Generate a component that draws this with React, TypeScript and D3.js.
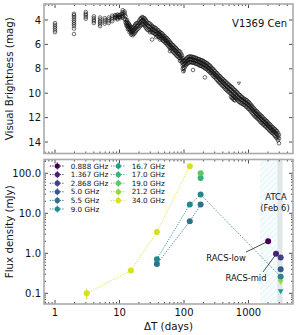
import React from 'react';
import * as d3 from 'd3';

const W = 296;
const H = 335;
const L = 44;
const R = 293;
const topY0 = 4;
const topY1 = 153.5;
const botY0 = 159.5;
const botY1 = 304;

// visual light curve: [day, mag, mag, ...]
const opticalEpochs: number[][] = [
  [1.0, 4.25, 4.4, 4.55, 4.7, 4.85, 5.0],
  [1.97, 3.5, 3.6, 3.75, 3.9, 4.05, 4.2, 4.35, 4.5, 4.7, 5.15],
  [3.0, 3.35, 3.5, 3.6, 3.75, 3.9],
  [4.0, 3.7, 3.85, 4.0, 4.1, 4.25],
  [5.0, 3.8, 3.95, 4.1, 4.2, 4.35, 4.5],
  [5.9, 3.85, 4.0, 4.15, 4.3],
  [6.8, 3.8, 3.95, 4.1, 4.25],
  [7.7, 3.65, 3.8, 3.95, 4.1],
  [8.5, 3.6, 3.75, 3.85],
  [9.3, 3.55, 3.7, 3.85, 3.95],
  [10.2, 3.6, 3.75, 3.85],
  [11.2, 3.2, 3.35, 3.5, 3.65, 3.8],
  [12.0, 3.3, 3.45, 3.6, 3.95],
  [12.8, 4.1, 4.3, 4.45],
  [13.5, 4.2, 4.4, 4.6, 4.75],
  [14.3, 4.4, 4.6, 4.8, 5.0],
  [15.2, 4.6, 4.8, 5.0, 5.2],
  [16.0, 4.7, 4.95, 5.25],
  [17.0, 4.5, 4.8, 5.1],
  [18.0, 4.3, 4.6, 4.9],
  [19.5, 4.2, 4.45, 4.7],
  [21.0, 3.9, 4.2, 4.5],
  [22.5, 3.75, 4.0, 4.3],
  [24.0, 3.85, 4.1, 4.4],
  [25.5, 4.0, 4.3, 4.6],
  [27.0, 4.2, 4.45, 4.8],
  [29.7, 4.3, 4.55, 4.8, 5.0],
  [32, 4.5, 4.75, 5.0, 5.6],
  [34.5, 4.6, 4.85, 5.1],
  [37, 4.7, 4.95, 5.2, 5.4],
  [40, 4.85, 5.1, 5.35],
  [42.4, 5.0, 5.2, 5.45, 5.6],
  [45.7, 5.1, 5.35, 5.6],
  [49, 5.3, 5.5, 5.75],
  [52.6, 5.45, 5.7, 5.9],
  [56.5, 5.6, 5.85, 6.1],
  [60.6, 5.8, 6.05, 6.3, 6.55],
  [65, 6.0, 6.25, 6.5],
  [70, 6.15, 6.4, 6.7],
  [75, 6.3, 6.55, 6.85],
  [80.5, 6.5, 6.75, 7.0],
  [86.7, 6.6, 6.9, 7.15, 7.35],
  [93, 6.9, 7.2, 7.5],
  [98, 7.3, 7.6, 7.9, 8.2],
  [104, 7.3, 7.55, 7.8],
  [111, 7.1, 7.35, 7.6],
  [119, 7.0, 7.25, 7.5],
  [128, 7.0, 7.2, 7.45],
  [138, 7.05, 7.25, 7.5, 8.1],
  [148, 7.1, 7.3, 7.55],
  [159, 7.15, 7.35, 7.6],
  [171, 7.2, 7.45, 7.7],
  [184, 7.3, 7.5, 7.75],
  [197, 7.35, 7.6, 7.85],
  [211, 7.45, 7.7, 7.95, 8.7],
  [227, 7.55, 7.8, 8.05],
  [244, 7.7, 7.95, 8.2],
  [262, 7.85, 8.1, 8.35],
  [281, 8.0, 8.3, 8.55],
  [302, 8.2, 8.45, 8.7],
  [324, 8.35, 8.6, 8.9],
  [348, 8.55, 8.8, 9.1],
  [374, 8.7, 8.95, 9.25],
  [401, 8.85, 9.1, 9.4],
  [432, 9.0, 9.3, 9.6],
  [463, 9.15, 9.45, 9.75],
  [497, 9.3, 9.6, 9.9],
  [534, 9.45, 9.75, 10.05, 10.3],
  [574, 9.6, 9.9, 10.2, 10.45],
  [618, 9.75, 10.05, 10.35, 10.6],
  [661, 9.9, 10.2, 10.5],
  [711, 10.1, 10.4, 10.7],
  [763, 10.25, 10.5, 10.8],
  [820, 10.4, 10.6, 10.9],
  [883, 10.5, 10.75, 11.0],
  [948, 10.6, 10.85, 11.15],
  [1018, 10.75, 11.0, 11.3],
  [1093, 10.95, 11.2, 11.5],
  [1174, 11.15, 11.4, 11.7],
  [1263, 11.35, 11.6, 11.9],
  [1355, 11.5, 11.75, 12.05],
  [1455, 11.7, 11.95, 12.2],
  [1563, 11.85, 12.1, 12.4],
  [1679, 12.0, 12.25, 12.55],
  [1802, 12.15, 12.4, 12.7],
  [1936, 12.3, 12.55, 12.85],
  [2079, 12.5, 12.75, 13.0],
  [2232, 12.65, 12.9, 13.15],
  [2397, 12.8, 13.05, 13.3],
  [2577, 12.95, 13.2, 13.5],
  [2766, 13.1, 13.4, 13.7],
  [2970, 13.4, 13.7, 14.1],
];

// extra observations filling the dense parts of the band
const opticalEpochsDense: number[][] = [
  [8.9, 3.65, 3.8],
  [9.8, 3.6, 3.75],
  [10.7, 3.5, 3.7],
  [12.4, 3.7, 3.95, 4.2],
  [13.1, 4.0, 4.25, 4.5],
  [13.9, 4.3, 4.5, 4.7],
  [14.7, 4.5, 4.7, 4.9],
  [15.6, 4.65, 4.9, 5.1],
  [16.5, 4.6, 4.85, 5.15],
  [17.5, 4.4, 4.7, 5.0],
  [18.7, 4.25, 4.5, 4.8],
  [20.2, 4.05, 4.3, 4.6],
  [21.7, 3.85, 4.1, 4.4],
  [23.2, 3.8, 4.05, 4.35],
  [24.7, 3.9, 4.2, 4.5],
  [26.2, 4.1, 4.35, 4.7],
  [28.3, 4.25, 4.5, 4.85],
  [31, 4.4, 4.65, 4.9],
  [33, 4.55, 4.8, 5.05],
  [35.7, 4.65, 4.9, 5.15],
  [38.5, 4.8, 5.05, 5.3],
  [41, 4.95, 5.15, 5.4],
  [44, 5.05, 5.3, 5.5],
  [47.3, 5.2, 5.45, 5.7],
  [50.8, 5.35, 5.6, 5.85],
  [54.5, 5.5, 5.75, 6.0],
  [58.5, 5.7, 5.95, 6.2],
  [62.8, 5.9, 6.15, 6.4],
  [67.5, 6.05, 6.3, 6.6],
  [72.5, 6.25, 6.5, 6.75],
  [77.7, 6.4, 6.65, 6.95],
  [83.5, 6.55, 6.8, 7.1],
  [89.8, 6.75, 7.05, 7.3],
  [95.5, 7.1, 7.4, 7.7, 8.0],
  [101, 7.35, 7.65, 7.95],
  [107.5, 7.2, 7.45, 7.7],
  [115, 7.05, 7.3, 7.55],
  [123.5, 7.0, 7.2, 7.45],
  [133, 7.0, 7.25, 7.5],
  [143, 7.05, 7.3, 7.5],
  [153.5, 7.1, 7.35, 7.6],
  [165, 7.2, 7.4, 7.65],
  [177.5, 7.25, 7.5, 7.75],
  [190.5, 7.3, 7.55, 7.8],
  [204, 7.4, 7.65, 7.9],
  [219, 7.5, 7.75, 8.0],
  [235.5, 7.6, 7.9, 8.15],
  [253, 7.75, 8.0, 8.3],
  [271.5, 7.95, 8.2, 8.45],
  [291.5, 8.1, 8.35, 8.65],
  [313, 8.3, 8.55, 8.8],
  [336, 8.45, 8.7, 9.0],
  [361, 8.6, 8.9, 9.15],
  [387.5, 8.8, 9.05, 9.35],
  [416, 8.95, 9.2, 9.5],
  [447, 9.1, 9.4, 9.7],
  [480, 9.25, 9.55, 9.85],
  [515, 9.4, 9.7, 10.0],
  [554, 9.5, 9.85, 10.15, 10.4],
  [596, 9.7, 10.0, 10.3, 10.55],
  [639, 9.85, 10.15, 10.45],
  [686, 10.0, 10.3, 10.6],
  [737, 10.15, 10.45, 10.75],
  [791, 10.3, 10.55, 10.85],
  [851, 10.45, 10.7, 10.95],
  [915, 10.55, 10.8, 11.1],
  [983, 10.7, 10.95, 11.25],
  [1055, 10.85, 11.1, 11.4],
  [1133, 11.05, 11.3, 11.6],
  [1218, 11.25, 11.5, 11.8],
  [1309, 11.45, 11.7, 11.95],
  [1405, 11.6, 11.85, 12.1],
  [1509, 11.75, 12.0, 12.3],
  [1620, 11.9, 12.2, 12.45],
  [1740, 12.1, 12.35, 12.6],
  [1868, 12.25, 12.5, 12.75],
  [2006, 12.4, 12.65, 12.9],
  [2155, 12.55, 12.8, 13.1],
  [2314, 12.75, 13.0, 13.25],
  [2485, 12.9, 13.15, 13.4],
  [2670, 13.05, 13.3, 13.6],
  [2866, 13.25, 13.55, 13.85],
];
const opticalLimits: number[][] = [
  [100, 8.2],
  [711, 9.2],
];

// radio: [day, flux mJy, error]
const freqLabels = ['0.888', '1.367', '2.868', '5.0', '5.5', '9.0', '16.7', '17.0', '19.0', '21.2', '34.0'];
const radio0888 = [[2017, 2.0, 0.15]];
const radio1367 = [[2672, 0.98, 0.08]];
const radio2868 = [[3154, 0.78, 0.06]];
const radio50 = [[3154, 0.4, 0.03]];
const radio55 = [[38, 0.54, 0.04], [123, 6.3, 0.3], [181, 16.5, 0.8]];
const radio90 = [[38, 0.71, 0.05], [123, 16.5, 0.8], [181, 29.3, 1.5], [3154, 0.26, 0.02]];
const radio167: number[][] = [];
const radio170 = [[181, 76, 4]];
const radio190 = [[181, 100, 5]];
const radio212: number[][] = [];
const radio340 = [[3.1, 0.1, 0.03], [15, 0.37, 0.03], [38, 3.4, 0.2], [123, 150, 8]];
const limit167 = [[3154, 0.11]];
const limit212 = [[3154, 0.19]];

const racsWindow = [1507, 2723];
const atcaWindow = [2792, 3380];

const series = [radio0888, radio1367, radio2868, radio50, radio55, radio90, radio167, radio170, radio190, radio212, radio340];
const limits: Record<number, number[][]> = { 6: limit167, 9: limit212 };

const color = (i: number) => d3.interpolateViridis((i / 10) * 0.93);
const font = 'DejaVu Sans, sans-serif';

function logTicks(lo: number, hi: number) {
  const out: { v: number; major: boolean }[] = [];
  for (let e = -2; e <= 4; e++) {
    for (let m = 1; m <= 9; m++) {
      const v = m * Math.pow(10, e);
      if (v >= lo && v <= hi) out.push({ v, major: m === 1 });
    }
  }
  return out;
}

export default function App() {
  const x = d3.scaleLog().domain([0.675, 4898]).range([L, R]);
  const yMag = d3.scaleLinear().domain([2.69, 14.94]).range([topY0, topY1]);
  const yFlux = d3.scaleLog().domain([221, 0.054]).range([botY0, botY1]);

  const xt = logTicks(0.675, 4898);
  const ft = logTicks(0.054, 221);
  const magTicks = [4, 6, 8, 10, 12, 14];
  const tickCol = '#222';
  const spine = '#aaaaaa';

  const xTickMarks = (y0: number, y1: number) =>
    xt.map((t, i) => {
      const len = t.major ? 4 : 2;
      const px = x(t.v);
      return (
        <g key={`xt${y0}-${i}`}>
          <line x1={px} x2={px} y1={y0} y2={y0 + len} stroke={tickCol} strokeWidth={0.8} />
          <line x1={px} x2={px} y1={y1} y2={y1 - len} stroke={tickCol} strokeWidth={0.8} />
        </g>
      );
    });

  const line = d3
    .line<number[]>()
    .x((d) => x(d[0]))
    .y((d) => yFlux(d[1]));

  const tri = (cx: number, cy: number, s: number) =>
    `M${cx - s},${cy - s * 0.8} L${cx + s},${cy - s * 0.8} L${cx},${cy + s * 0.9} Z`;

  const allEpochs = opticalEpochs.concat(opticalEpochsDense);

  return (
    <svg width={W} height={H} style={{ position: 'absolute', left: 0, top: 0 }} fontFamily={font}>
      <defs>
        <pattern id="hatch" patternUnits="userSpaceOnUse" width="4" height="4" patternTransform="rotate(45)">
          <line x1="0" y1="0" x2="0" y2="4" stroke="#d3eff4" strokeWidth="1" />
        </pattern>
      </defs>
      <rect width={W} height={H} fill="#fff" />

      {/* ---------- top panel ---------- */}
      {allEpochs.map((ep, i) =>
        ep.slice(1).map((m, j) => (
          <circle key={`o${i}-${j}`} cx={x(ep[0])} cy={yMag(m)} r={1.8} fill="none" stroke="#111" strokeWidth={0.6} />
        ))
      )}
      {opticalLimits.map((d, i) => (
        <path key={`ol${i}`} d={tri(x(d[0]), yMag(d[1]), 1.6)} fill="none" stroke="#111" strokeWidth={0.6} />
      ))}
      {xTickMarks(topY0, topY1)}
      {magTicks.map((m) => (
        <g key={`mt${m}`}>
          <line x1={L} x2={L + 4} y1={yMag(m)} y2={yMag(m)} stroke={tickCol} strokeWidth={0.8} />
          <line x1={R} x2={R - 4} y1={yMag(m)} y2={yMag(m)} stroke={tickCol} strokeWidth={0.8} />
          <text x={L - 3} y={yMag(m) + 3.6} fontSize={10} textAnchor="end" fill="#111">
            {m}
          </text>
        </g>
      ))}
      <rect x={L} y={topY0} width={R - L} height={topY1 - topY0} fill="none" stroke={spine} strokeWidth={1.6} />
      <text x={287} y={26.5} fontSize={10} textAnchor="end" fill="#111">
        V1369 Cen
      </text>
      <text
        transform={`translate(13,${(topY0 + topY1) / 2}) rotate(-90)`}
        fontSize={10.3}
        textAnchor="middle"
        fill="#111"
      >
        Visual Brightness (mag)
      </text>

      {/* ---------- bottom panel ---------- */}
      <rect x={x(racsWindow[0])} y={botY0} width={x(racsWindow[1]) - x(racsWindow[0])} height={botY1 - botY0} fill="#f7fcfd" />
      <rect x={x(racsWindow[0])} y={botY0} width={x(racsWindow[1]) - x(racsWindow[0])} height={botY1 - botY0} fill="url(#hatch)" />
      <rect x={x(atcaWindow[0])} y={botY0} width={x(atcaWindow[1]) - x(atcaWindow[0])} height={botY1 - botY0} fill="#e1e6e8" />

      {series.map((s, i) =>
        s.length > 1 ? (
          <path
            key={`ln${i}`}
            d={line(s) || ''}
            fill="none"
            stroke={color(i)}
            strokeOpacity={0.85}
            strokeWidth={1}
            strokeDasharray="1.2,1.3"
          />
        ) : null
      )}

      {/* annotations */}
      <line x1={246} y1={252} x2={x(radio0888[0][0]) - 2} y2={yFlux(radio0888[0][1]) + 1} stroke="#222" strokeWidth={0.8} />
      <line x1={263} y1={272} x2={x(radio1367[0][0]) - 1} y2={yFlux(radio1367[0][1]) + 2} stroke="#222" strokeWidth={0.8} />
      <text x={226} y={260.5} fontSize={8.4} textAnchor="middle" fill="#111">
        RACS-low
      </text>
      <text x={246} y={281} fontSize={8.4} textAnchor="middle" fill="#111">
        RACS-mid
      </text>
      <text x={276} y={200} fontSize={8.4} textAnchor="middle" fill="#111">
        ATCA
      </text>
      <text x={275} y={210.5} fontSize={8.4} textAnchor="middle" fill="#111">
        (Feb 6)
      </text>

      {series.map((s, i) =>
        s.map((d, j) => (
          <g key={`p${i}-${j}`}>
            <line
              x1={x(d[0])}
              x2={x(d[0])}
              y1={yFlux(d[1] + d[2])}
              y2={yFlux(Math.max(d[1] - d[2], 0.01))}
              stroke={color(i)}
              strokeWidth={1}
            />
            <circle cx={x(d[0])} cy={yFlux(d[1])} r={3} fill={color(i)} />
          </g>
        ))
      )}
      {Object.keys(limits).map((k) =>
        limits[+k].map((d, j) => (
          <path key={`lim${k}-${j}`} d={tri(x(d[0]), yFlux(d[1]), 3)} fill={color(+k)} />
        ))
      )}

      {/* legend */}
      {freqLabels.map((f, i) => {
        const col = i < 6 ? 0 : 1;
        const row = i < 6 ? i : i - 6;
        const cx = col === 0 ? 57.3 : 118.3;
        const cy = 166 + row * 8.6;
        return (
          <g key={`lg${i}`}>
            <line x1={cx - 7.5} x2={cx + 7.5} y1={cy} y2={cy} stroke={color(i)} strokeWidth={1} strokeDasharray="1.2,1.3" />
            <line x1={cx} x2={cx} y1={cy - 3.5} y2={cy + 3.5} stroke={color(i)} strokeWidth={1} />
            <circle cx={cx} cy={cy} r={2.6} fill={color(i)} />
            <text x={cx + 13.4} y={cy + 2.6} fontSize={7.2} fill="#111">
              {f} GHz
            </text>
          </g>
        );
      })}

      {xTickMarks(botY0, botY1)}
      {ft.map((t, i) => {
        const len = t.major ? 4 : 2;
        const py = yFlux(t.v);
        return (
          <g key={`ft${i}`}>
            <line x1={L} x2={L + len} y1={py} y2={py} stroke={tickCol} strokeWidth={0.8} />
            <line x1={R} x2={R - len} y1={py} y2={py} stroke={tickCol} strokeWidth={0.8} />
            {t.major ? (
              <text x={L - 3} y={py + 3.6} fontSize={10} textAnchor="end" fill="#111">
                {t.v.toFixed(1)}
              </text>
            ) : null}
          </g>
        );
      })}
      <rect x={L} y={botY0} width={R - L} height={botY1 - botY0} fill="none" stroke={spine} strokeWidth={1.6} />
      {xt
        .filter((t) => t.major)
        .map((t, i) => (
          <text key={`xl${i}`} x={x(t.v)} y={316} fontSize={10} textAnchor="middle" fill="#111">
            {t.v >= 1 ? String(t.v) : ''}
          </text>
        ))}
      <text x={(L + R) / 2} y={330} fontSize={10.3} textAnchor="middle" fill="#111">
        ΔT (days)
      </text>
      <text
        transform={`translate(13,${(botY0 + botY1) / 2}) rotate(-90)`}
        fontSize={10.3}
        textAnchor="middle"
        fill="#111"
      >
        Flux density (mJy)
      </text>
    </svg>
  );
}
